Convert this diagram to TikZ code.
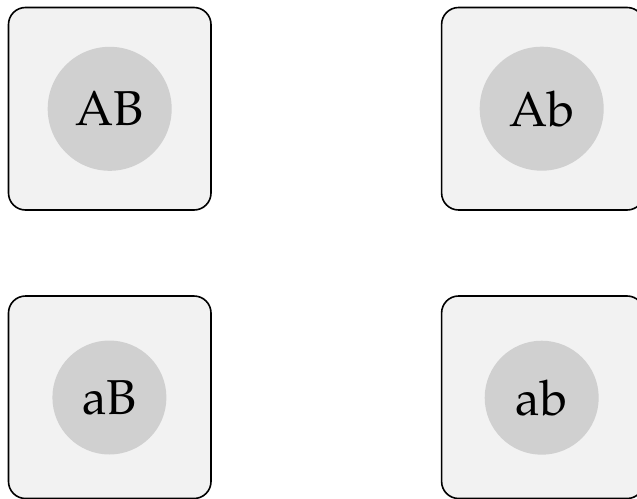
\documentclass[tikz,border=0pt]{standalone}
\usepackage[T1]{fontenc}
\usepackage{mathpazo}
\definecolor{boxfill}{HTML}{F2F2F2}
\definecolor{dotfill}{HTML}{D0D0D0}
\tikzset{
  cell/.style={draw=black, line width=1.6pt, fill=boxfill, rounded corners=17pt,
    minimum width=202.5pt, minimum height=202.5pt, inner sep=0pt},
  bigdot/.style={circle, fill=dotfill, minimum size=124pt, inner sep=0pt,
    font=\fontsize{49}{56}\selectfont},
  smalldot/.style={circle, fill=dotfill, minimum size=114pt, inner sep=0pt,
    font=\fontsize{49}{56}\selectfont}
}
\begin{document}
\begin{tikzpicture}[x=1pt,y=-1pt]
\useasboundingbox (0,0) rectangle (637,498);
\node[cell] (b1) at (109.75,108.75) {};
\node[cell] (b2) at (542.85,108.75) {};
\node[cell] (b3) at (109.75,397.25) {};
\node[cell] (b4) at (542.85,397.25) {};
\node[bigdot] (AB) at (109.7,108.8) {AB};
\node[bigdot] (Ab) at (541.7,108.7) {Ab};
\node[smalldot] (aB) at (109.4,397.5) {aB};
\node[smalldot] (ab) at (541.7,397.7) {ab};
\end{tikzpicture}
\end{document}
